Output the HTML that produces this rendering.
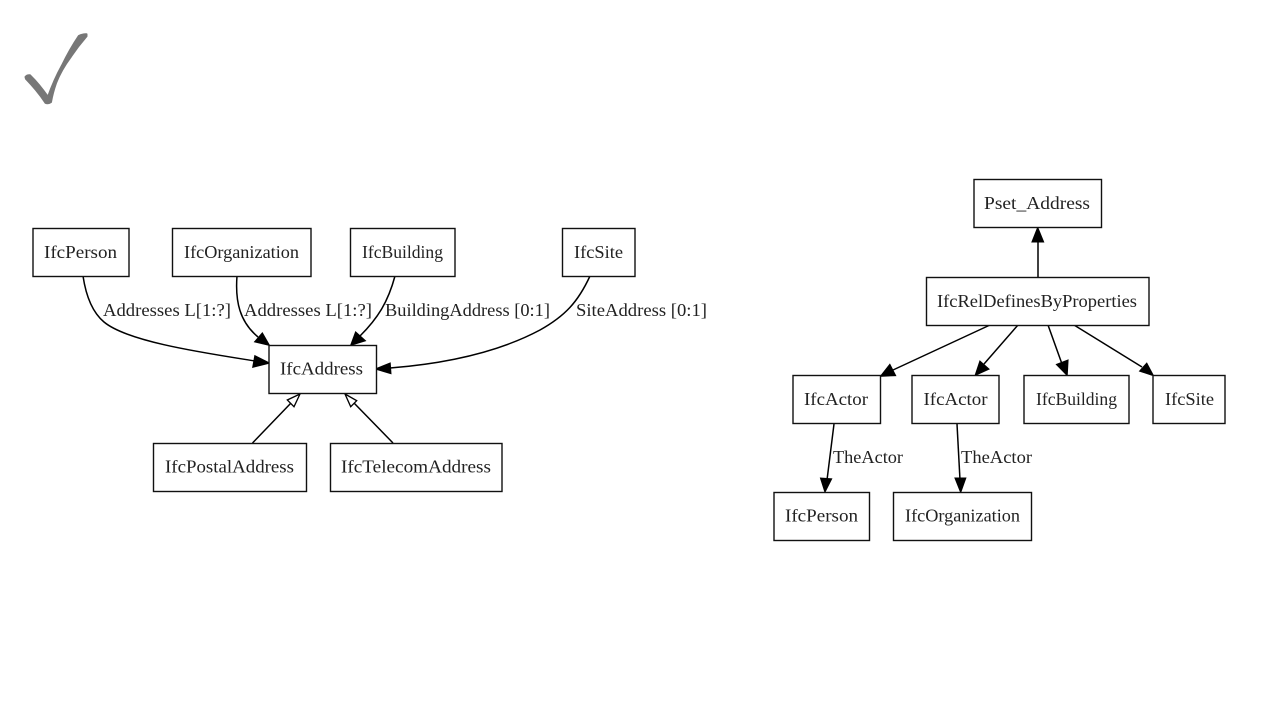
<!DOCTYPE html>
<html>
<head>
<meta charset="utf-8">
<style>
html,body{margin:0;padding:0;background:#fff;width:1280px;height:720px;overflow:hidden}
svg{display:block}
text{font-family:"Liberation Serif",serif;font-size:18px;fill:#222}
.b{fill:#fff;stroke:#111;stroke-width:1.4}
.e{fill:none;stroke:#000;stroke-width:1.5}
.a{fill:#000;stroke:#000;stroke-width:1.5;stroke-linejoin:miter}
.o{fill:#fff;stroke:#000;stroke-width:1.3}
</style>
</head>
<body>
<svg width="1280" height="720" viewBox="0 0 1280 720" xmlns="http://www.w3.org/2000/svg">
<rect width="1280" height="720" fill="#fff"/>
<!-- check mark -->
<path d="M25.500 77 Q27 75 30 75.300 Q39 84 48 97 Q54 80 62 65.500 Q70 49 78.800 36 Q83 34 86.500 34.300 L86.500 36.200 Q78 46 71 56.500 Q61 70 56 83 Q52.500 93 51 102 Q48 104 45.500 102.800 Q41 96 36 90 Q31 84 26 78.800 Z" fill="#777" stroke="#777" stroke-width="2" stroke-linejoin="round"/>

<!-- left edges -->
<path class="e" d="M83 276 C86 296 92 312 104 322 C128 342 205 353 255 361"/>
<polygon class="a" points="269,363 255,356 253,367"/>
<path class="e" d="M237 276 C235 302 240 322 258 337"/>
<polygon class="a" points="269,345 255,341.700 262.300,333.300"/>
<path class="e" d="M395 276 C388 302 378 318 360 336"/>
<polygon class="a" points="351,345 355.700,332.300 365,340.700"/>
<path class="e" d="M590 276 C578 302 565 316 540 330 C495 354 440 364 390 368"/>
<polygon class="a" points="376,369 390,363.300 390.700,373.300"/>
<path class="e" d="M252.500 443 L291 403"/>
<polygon class="o" points="300,394 287.300,400 294,406.700"/>
<path class="e" d="M393 443 L354 403"/>
<polygon class="o" points="345,394 356.700,400.700 350.700,406.700"/>

<!-- right edges -->
<path class="e" d="M1038 277 L1038 240"/>
<polygon class="a" points="1037.700,228 1043.300,241.700 1032.300,241.700"/>
<path class="e" d="M990 325 L893 370"/>
<polygon class="a" points="881,376 889.800,364.800 895.300,375.400"/>
<path class="e" d="M1018 325 L984 364"/>
<polygon class="a" points="975.500,375 980,361.400 988.600,369"/>
<path class="e" d="M1048 325 L1062 364"/>
<polygon class="a" points="1067,375 1056.800,364.600 1067.800,360.400"/>
<path class="e" d="M1074 325 L1142 367"/>
<polygon class="a" points="1153,375.300 1140,371 1146.700,363.500"/>
<path class="e" d="M834 424 L827 480"/>
<polygon class="a" points="825,491.500 820.800,478.300 831.300,479"/>
<path class="e" d="M957 424 L960 480"/>
<polygon class="a" points="960.700,491.800 955.300,478.300 965.500,478.300"/>

<!-- left boxes -->
<rect class="b" x="33" y="228.500" width="96" height="48"/>
<text x="44" y="258" textLength="73" lengthAdjust="spacingAndGlyphs">IfcPerson</text>
<rect class="b" x="172.500" y="228.500" width="138.500" height="48"/>
<text x="184" y="258" textLength="115" lengthAdjust="spacingAndGlyphs">IfcOrganization</text>
<rect class="b" x="350.500" y="228.500" width="104.500" height="48"/>
<text x="362" y="258" textLength="81" lengthAdjust="spacingAndGlyphs">IfcBuilding</text>
<rect class="b" x="562.500" y="228.500" width="72.500" height="48"/>
<text x="574" y="258" textLength="49" lengthAdjust="spacingAndGlyphs">IfcSite</text>
<rect class="b" x="269" y="345.500" width="107.500" height="48"/>
<text x="280" y="374.500" textLength="83" lengthAdjust="spacingAndGlyphs">IfcAddress</text>
<rect class="b" x="153.500" y="443.500" width="153" height="48"/>
<text x="165" y="472.500" textLength="129" lengthAdjust="spacingAndGlyphs">IfcPostalAddress</text>
<rect class="b" x="330.500" y="443.500" width="171.500" height="48"/>
<text x="341" y="472.500" textLength="150" lengthAdjust="spacingAndGlyphs">IfcTelecomAddress</text>

<text x="103" y="316" textLength="128" lengthAdjust="spacingAndGlyphs">Addresses L[1:?]</text>
<text x="244" y="316" textLength="128" lengthAdjust="spacingAndGlyphs">Addresses L[1:?]</text>
<text x="385" y="316" textLength="165" lengthAdjust="spacingAndGlyphs">BuildingAddress [0:1]</text>
<text x="576" y="316" textLength="131" lengthAdjust="spacingAndGlyphs">SiteAddress [0:1]</text>

<!-- right boxes -->
<rect class="b" x="974" y="179.500" width="127.500" height="48"/>
<text x="984" y="209" textLength="106" lengthAdjust="spacingAndGlyphs">Pset_Address</text>
<rect class="b" x="926.500" y="277.500" width="222.500" height="48"/>
<text x="937" y="307" textLength="200" lengthAdjust="spacingAndGlyphs">IfcRelDefinesByProperties</text>
<rect class="b" x="793" y="375.500" width="87.500" height="48"/>
<text x="804" y="405" textLength="64" lengthAdjust="spacingAndGlyphs">IfcActor</text>
<rect class="b" x="912" y="375.500" width="87" height="48"/>
<text x="923.500" y="405" textLength="64" lengthAdjust="spacingAndGlyphs">IfcActor</text>
<rect class="b" x="1024" y="375.500" width="105" height="48"/>
<text x="1036" y="405" textLength="81" lengthAdjust="spacingAndGlyphs">IfcBuilding</text>
<rect class="b" x="1153" y="375.500" width="72" height="48"/>
<text x="1165" y="405" textLength="49" lengthAdjust="spacingAndGlyphs">IfcSite</text>
<rect class="b" x="774" y="492.500" width="95.500" height="48"/>
<text x="785" y="521.500" textLength="73" lengthAdjust="spacingAndGlyphs">IfcPerson</text>
<rect class="b" x="893.500" y="492.500" width="138" height="48"/>
<text x="905" y="521.500" textLength="115" lengthAdjust="spacingAndGlyphs">IfcOrganization</text>

<text x="833" y="463" textLength="70" lengthAdjust="spacingAndGlyphs">TheActor</text>
<text x="961" y="463" textLength="71" lengthAdjust="spacingAndGlyphs">TheActor</text>
</svg>
</body>
</html>
